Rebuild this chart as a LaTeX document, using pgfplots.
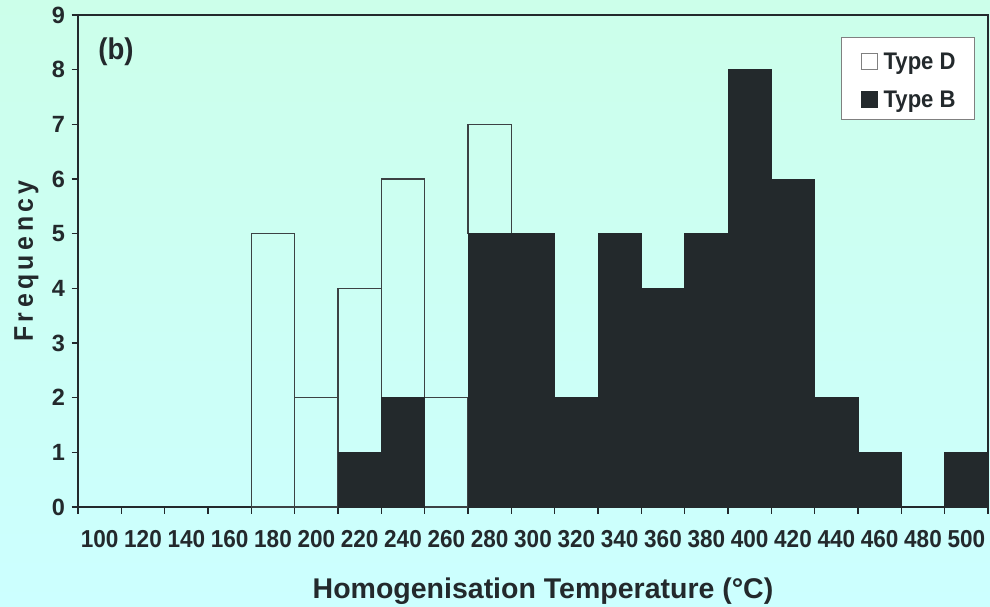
\documentclass[border=0pt]{standalone}
\usepackage{pgfplots}
\pgfplotsset{compat=1.18}
\usepackage{fontspec}
\setmainfont{Liberation Sans}[FakeStretch=0.92]
\newfontfamily\widefont{Liberation Sans}

\definecolor{ink}{RGB}{35,41,44}
\definecolor{edge}{RGB}{60,66,68}
\definecolor{bgtop}{RGB}{204,255,234}
\definecolor{bgbot}{RGB}{204,255,255}

\begin{document}
\begin{tikzpicture}[x=1pt,y=1pt]
\useasboundingbox (0,0) rectangle (990,606);
\shade[top color=bgtop, bottom color=bgbot] (0,0) rectangle (990,606);
\begin{axis}[
    at={(78pt,99pt)}, anchor=south west,
    width=910pt, height=492pt, scale only axis,
    ybar stacked, bar width=1,
    xmin=-0.5, xmax=20.5, ymin=0, ymax=9,
    % ticks sit on the bin edges, labels in the middle of each bin
    xtick={-0.5,0.5,...,20.5},
    x tick label as interval,
    xticklabels={100,120,140,160,180,200,220,240,260,280,300,320,340,360,380,400,420,440,460,480,500},
    ytick={0,...,9},
    tick align=outside, xtick pos=bottom, ytick pos=left,
    major tick length=6.5pt,
    axis line style={ink, line width=1.3pt},
    tick style={ink, line width=1.1pt},
    /pgf/number format/assume math mode=true,
    yticklabel style={font=\widefont\bfseries\fontsize{23.5}{23.5}\selectfont, text=ink, xshift=-3pt},
    xticklabel style={font=\bfseries\fontsize{24.5}{24.5}\selectfont, text=ink, yshift=-13pt},
    xlabel={Homogenisation Temperature (°C)},
    xlabel style={at={(axis description cs:0.511,-0.185)}, anchor=base,
      font=\widefont\bfseries\fontsize{28.5}{28.5}\selectfont, text=ink},
    ylabel={F\,r\,e\,q\,u\,e\,n\,c\,y},
    ylabel style={at={(axis description cs:-0.0495,0.5)}, anchor=base,
      font=\bfseries\fontsize{27}{27}\selectfont, text=ink},
]

\addplot[fill=ink, draw=ink, line width=1pt]
  coordinates {(0,0) (1,0) (2,0) (3,0) (4,0) (5,0) (6,1) (7,2) (8,0) (9,5) (10,5)
               (11,2) (12,5) (13,4) (14,5) (15,8) (16,6) (17,2) (18,1) (19,0) (20,1)};

\addplot[fill=none, draw=edge, line width=1.2pt]
  coordinates {(0,0) (1,0) (2,0) (3,0) (4,5) (5,2) (6,3) (7,4) (8,2) (9,2) (10,0)
               (11,0) (12,0) (13,0) (14,0) (15,0) (16,0) (17,0) (18,0) (19,0) (20,0)};

% panel tag and legend box
\node[font=\bfseries\fontsize{30}{30}\selectfont, text=ink] at (axis description cs:0.0418,0.925) {(b)};
\node[anchor=north east, draw=gray, fill=white, line width=0.8pt,
      inner xsep=19pt, inner ysep=0pt, text=ink,
      font=\bfseries\fontsize{24}{38.3}\selectfont, align=left]
  at (axis description cs:0.9857,0.9553)
  {\setlength\fboxsep{0pt}\setlength\fboxrule{0.8pt}%
   \rule{0pt}{32pt}\fcolorbox{gray}{white}{\rule{0pt}{15.4pt}\hspace{15.4pt}}\hspace{6pt}Type D\\
   \rule[-11.7pt]{0pt}{11.7pt}\textcolor{ink}{\rule{17pt}{17pt}}\hspace{6pt}Type B};
\end{axis}
\end{tikzpicture}
\end{document}
